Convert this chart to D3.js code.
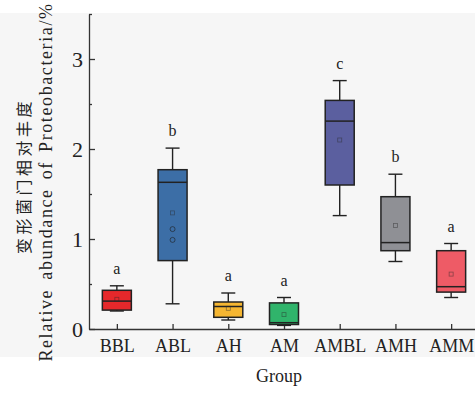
<!DOCTYPE html>
<html>
<head>
  <meta charset="utf-8">
<style>
  body { margin: 0; background: #fff; }
  svg { display: block; }
  text { font-family: "Liberation Serif", "Times New Roman", serif; fill: #222; }
  .cjk { font-family: "Noto Sans CJK SC", sans-serif; }
</style>
<script src="https://d3js.org/d3.v7.min.js"></script>
<script>

  // values
  var groups = ["BBL", "ABL", "AH", "AM", "AMBL", "AMH", "AMM"];
  var whiskerLow  = [0.20, 0.28, 0.10, 0.04, 1.26, 0.75, 0.35];
  var q1          = [0.21, 0.76, 0.13, 0.05, 1.60, 0.87, 0.41];
  var median      = [0.31, 1.63, 0.25, 0.07, 2.31, 0.96, 0.47];
  var q3          = [0.43, 1.77, 0.30, 0.29, 2.54, 1.47, 0.87];
  var whiskerHigh = [0.48, 2.01, 0.40, 0.35, 2.76, 1.72, 0.95];
  var means       = [0.33, 1.29, 0.23, 0.16, 2.10, 1.15, 0.61];
  var letters     = ["a", "b", "a", "a", "c", "b", "a"];
  var colors      = ["#e5282b", "#3c6ea6", "#f5b632", "#30b46b", "#5b5f9f", "#8f9095", "#ee5b66"];
  var extraPoints = [{g: "ABL", v: 1.11}, {g: "ABL", v: 0.99}];
  var yTicks = [0, 1, 2, 3];
  var yMinor = [0.5, 1.5, 2.5, 3.5];

  function draw() {
    var svg = d3.select("svg");

    svg.append("rect")
        .attr("x", 0).attr("y", 13)
        .attr("width", 475).attr("height", 344)
        .attr("fill", "#f6f6f6");

    var y = d3.scaleLinear().domain([0, 3.5]).range([329, 14]);
    var x = d3.scalePoint().domain(groups).range([89, 479]).padding(0.5);

    var rows = groups.map(function(g, i) {
      return {g: g, lo: whiskerLow[i], q1: q1[i], med: median[i], q3: q3[i],
              hi: whiskerHigh[i], mean: means[i], letter: letters[i], color: colors[i]};
    });

    // axes
    var yAxis = svg.append("g")
        .attr("transform", "translate(89,0)")
        .call(d3.axisLeft(y).tickValues(yTicks).tickSize(-6).tickSizeOuter(0).tickPadding(6).tickFormat(d3.format("d")));
    yAxis.selectAll("text").style("font-size", "22px");

    svg.append("g")
        .attr("transform", "translate(89,0)")
        .call(d3.axisLeft(y).tickValues(yMinor).tickSize(-3).tickSizeOuter(0).tickFormat(""))
      .select(".domain").remove();

    var xAxis = svg.append("g")
        .attr("transform", "translate(0,329)")
        .call(d3.axisBottom(x).tickSize(-5).tickSizeOuter(0).tickPadding(10));
    xAxis.selectAll("text").style("font-size", "18px");

    svg.selectAll(".domain, .tick line").attr("stroke", "#333").attr("stroke-width", 1.3);

    var bw = 29;
    var box = svg.append("g").selectAll("g").data(rows).join("g")
        .attr("transform", function(d) { return "translate(" + x(d.g) + ",0)"; });

    // whiskers
    box.append("line")
        .attr("y1", function(d) { return y(d.lo); })
        .attr("y2", function(d) { return y(d.hi); })
        .attr("stroke", "#222").attr("stroke-width", 1.4);
    box.selectAll(".cap").data(function(d) { return [d.lo, d.hi]; }).join("line")
        .attr("class", "cap")
        .attr("x1", -7).attr("x2", 7)
        .attr("y1", function(v) { return y(v); })
        .attr("y2", function(v) { return y(v); })
        .attr("stroke", "#222").attr("stroke-width", 1.4);

    box.append("rect")
        .attr("x", -bw / 2).attr("width", bw)
        .attr("y", function(d) { return y(d.q3); })
        .attr("height", function(d) { return y(d.q1) - y(d.q3); })
        .attr("fill", function(d) { return d.color; })
        .attr("stroke", "#222").attr("stroke-width", 1.5);

    box.append("line")
        .attr("x1", -bw / 2).attr("x2", bw / 2)
        .attr("y1", function(d) { return y(d.med); })
        .attr("y2", function(d) { return y(d.med); })
        .attr("stroke", "#222").attr("stroke-width", 1.5);

    box.append("rect")
        .attr("x", -2).attr("width", 4).attr("height", 4)
        .attr("y", function(d) { return y(d.mean) - 2; })
        .attr("fill", "none")
        .attr("stroke", "rgba(40,40,40,0.5)").attr("stroke-width", 0.8);

    box.append("text")
        .attr("y", function(d) { return y(d.hi) - 12; })
        .attr("text-anchor", "middle")
        .style("font-size", "16px")
        .text(function(d) { return d.letter; });

    svg.append("g").selectAll("circle").data(extraPoints).join("circle")
        .attr("cx", function(d) { return x(d.g); })
        .attr("cy", function(d) { return y(d.v); })
        .attr("r", 2.5)
        .attr("fill", "none")
        .attr("stroke", "rgba(30,30,30,0.6)").attr("stroke-width", 1);

    // titles
    svg.append("text")
        .attr("x", 279).attr("y", 382)
        .attr("text-anchor", "middle")
        .style("font-size", "18px")
        .text("Group");

    svg.append("text")
        .attr("class", "cjk")
        .attr("transform", "translate(23,176) rotate(-90)")
        .attr("text-anchor", "middle")
        .attr("dominant-baseline", "central")
        .style("font-size", "16px")
        .style("letter-spacing", "3.5px")
        .text("变形菌门相对丰度");
    svg.append("text")
        .attr("transform", "translate(46,182) rotate(-90)")
        .attr("text-anchor", "middle")
        .attr("dominant-baseline", "central")
        .style("font-size", "18px")
        .style("letter-spacing", "1.6px")
        .style("word-spacing", "3px")
        .text("Relative abundance of Proteobacteria/%");
  }

  window.onload = draw;

</script>
</head>
<body>
  <svg width="475" height="393"></svg>
</body>
</html>
